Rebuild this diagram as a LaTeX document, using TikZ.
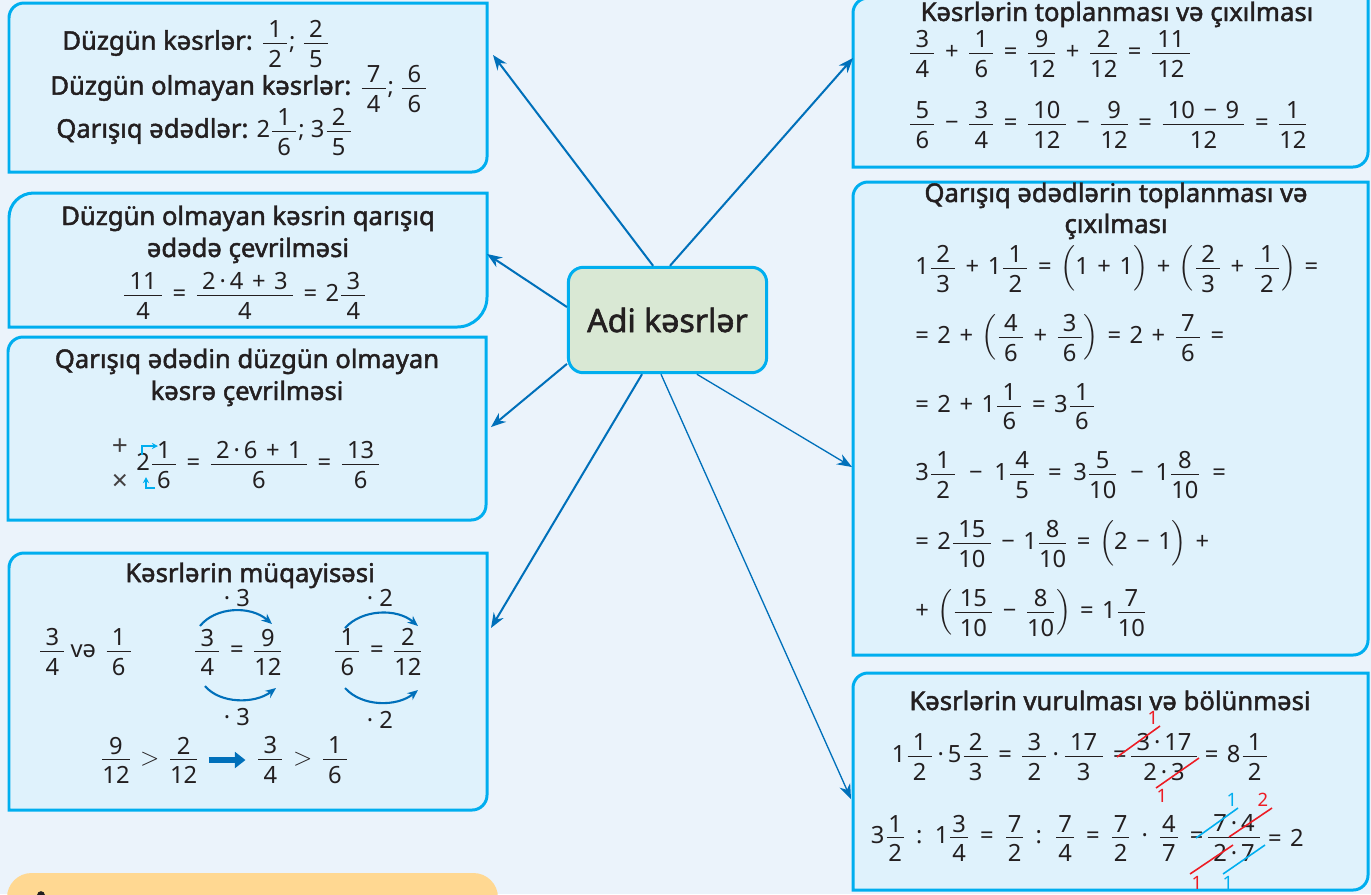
\documentclass[tikz,border=0pt]{standalone}
\usepackage{amsmath}
\usepackage{fontspec}
\setmainfont{Noto Sans}[BoldFont={Noto Sans},BoldFeatures={FakeBold=1.8}]
\usetikzlibrary{arrows.meta,fit}

\definecolor{pagebg}{RGB}{235,243,251}
\definecolor{cardbg}{RGB}{223,242,252}
\definecolor{cardline}{RGB}{0,174,239}
\definecolor{linkblue}{RGB}{0,112,186}
\definecolor{hubbg}{RGB}{217,232,212}
\definecolor{notebg}{RGB}{255,216,146}
\definecolor{ink}{RGB}{35,31,32}
\definecolor{cutred}{RGB}{237,28,36}

\newcommand\fr[2]{$\dfrac{\hspace{0.22em}\raisebox{-3pt}{#1}\hspace{0.22em}}{\text{#2}}$}
\newcommand\frn[2]{$\dfrac{\hspace{0.08em}\raisebox{-3pt}{#1}\hspace{0.08em}}{\text{#2}}$}
\newcommand\pr[1]{$\left(\vphantom{\text{\fr{1}{2}}}\text{#1}\right)$}
\newcommand\lbl[1]{{\fontsize{14.6}{17}\selectfont\bfseries #1}}
% card outline: rounded top left (#2) and bottom right (#3)
\newcommand\card[3]{\filldraw[cardframe] (#1.south west) -- ([yshift=-#2]#1.north west)
  .. controls ([yshift=-0.45*#2]#1.north west) and ([xshift=0.45*#2]#1.north west) .. ([xshift=#2]#1.north west)
  -- (#1.north east) -- ([yshift=#3]#1.south east)
  .. controls ([yshift=0.45*#3]#1.south east) and ([xshift=-0.45*#3]#1.south east) .. ([xshift=-#3]#1.south east) -- cycle;}

\tikzset{
  cardframe/.style={fill=cardbg,draw=cardline,line width=1.7pt},
  area/.style={inner sep=0pt,outer sep=0pt},
  txt/.style={inner sep=0pt,text=ink,font=\fontsize{13.5}{16}\selectfont},
  eqn/.style={inner sep=0pt,text=ink,font={\fontsize{13.5}{16}\selectfont\spaceskip=0.36em\relax}},
  wideeqn/.style={eqn,font={\fontsize{13.5}{16}\selectfont\spaceskip=0.5em\relax}},
  ttl/.style={inner sep=0pt,text=ink,anchor=base,font=\fontsize{14.6}{17}\selectfont\bfseries},
  cut/.style={inner sep=0pt,font=\fontsize{10.5}{12}\selectfont},
  link/.style={draw=linkblue,line width=1.15pt,-{Stealth[length=8.5pt,width=6.5pt]}},
  thinlink/.style={link,line width=0.75pt},
  swing/.style={draw=linkblue,line width=1.2pt,-{Stealth[length=6pt,width=5pt]}},
}

\begin{document}
\begin{tikzpicture}[x=0.02cm,y=-0.02cm]
\useasboundingbox (0,0) rectangle (1371,894);
\fill[pagebg] (0,0) rectangle (1371,894);

\node[area,fit={(9,3)(487,172)}] (kinds) {};
\node[area,fit={(9,193)(487,327)}] (tomixed) {};
\node[area,fit={(8,337)(486,520)}] (toimproper) {};
\node[area,fit={(9,553)(487,810)}] (compare) {};
\node[area,fit={(853,-2)(1368,167)}] (addsub) {};
\node[area,fit={(853,182)(1368,655)}] (mixaddsub) {};
\node[area,fit={(853,673)(1368,890)}] (muldiv) {};
\card{kinds}{8.5pt}{8.5pt}
\card{tomixed}{14pt}{17pt}
\card{toimproper}{8.5pt}{8.5pt}
\card{compare}{8.5pt}{8.5pt}
\card{addsub}{8.5pt}{8.5pt}
\card{mixaddsub}{8.5pt}{8.5pt}
\card{muldiv}{8.5pt}{8.5pt}

\fill[notebg,rounded corners=14pt] (7,873) rectangle (498,940);
\fill[ink] (41,895) circle (2.2pt);

\node[draw=cardline,fill=hubbg,line width=1.7pt,rounded corners=8.5pt,minimum width=112.8pt,minimum height=60pt,
  text=ink,font=\fontsize{18.3}{21}\selectfont\bfseries] (hub) at (667.5,320) {Adi kəsrlər};

\coordinate (tA) at (493,55);
\coordinate (tB) at (853,58);
\coordinate (tC) at (487,254);
\coordinate (tD) at (491,427);
\coordinate (tE) at (491,628);
\coordinate (tF) at (852,467);
\coordinate (tG) at (851,799);
\draw[link] ([xshift=-8.2pt]hub.north) -- (tA);
\draw[link] ([xshift=1.4pt]hub.north) -- (tB);
\draw[link] ([yshift=7.4pt]hub.west) -- (tC);
\draw[link] ([yshift=-25pt]hub.west) -- (tD);
\draw[link] ([xshift=-14.5pt]hub.south) -- (tE);
\draw[thinlink] ([xshift=16.7pt]hub.south) -- (tF);
\draw[thinlink] ([xshift=-3.7pt]hub.south) -- (tG);

% kinds of fractions
\node[txt,anchor=west] (k1) at (62,44) {\lbl{Düzgün kəsrlər:} \fr{1}{2}; \fr{2}{5}};
\node[txt,anchor=west] (k2) at (50,89) {\lbl{Düzgün olmayan kəsrlər:} \fr{7}{4}; \fr{6}{6}};
\node[txt,anchor=west] (k3) at (56,132) {\lbl{Qarışıq ədədlər:} 2\fr{1}{6}; 3\fr{2}{5}};

% improper -> mixed
\node[ttl] (m1) at (248,225) {Düzgün olmayan kəsrin qarışıq};
\node[ttl] (m2) at (248,257) {ədədə çevrilməsi};
\node[eqn,anchor=west] (m3) at (122,296) {\fr{11}{4} = \fr{2\,·\,4 + 3}{4} = 2\fr{3}{4}};

% mixed -> improper
\node[ttl] (i1) at (247,368) {Qarışıq ədədin düzgün olmayan};
\node[ttl] (i2) at (247,400) {kəsrə çevrilməsi};
\node[txt,text=ink!85,font=\fontsize{16}{18}\selectfont] (iplus) at (120,447) {+};
\node[txt,text=ink!85,font=\fontsize{16}{18}\selectfont] (itimes) at (120,482) {×};
\node[eqn,anchor=west] (i3) at (136,465) {2\fr{1}{6} = \fr{2\,·\,6 + 1}{6} = \fr{13}{6}};
\draw[cardline,line width=1pt,-{Stealth[length=3.5pt,width=3.5pt]}] (142,455) -- (142,446) -- (158,446);
\draw[cardline,line width=1pt,-{Stealth[length=3.5pt,width=3.5pt]}] (155,488) -- (146,488) -- (146,477);

% comparison
\node[ttl] (c0) at (250,582) {Kəsrlərin müqayisəsi};
\node[eqn,anchor=west] (c1) at (38,652) {\fr{3}{4}\,və \fr{1}{6}};
\node[eqn,anchor=west] (c2) at (193,652) {\fr{3}{4} = \fr{9}{12}};
\node[eqn,anchor=west] (c3) at (333,652) {\fr{1}{6} = \fr{2}{12}};
\draw[swing] (200,626) .. controls (215,607) and (250,605) .. (272,624);
\draw[swing] (205,686) .. controls (220,704) and (255,704) .. (276,688);
\draw[swing] (345,628) .. controls (362,609) and (397,608) .. (418,626);
\draw[swing] (345,688) .. controls (362,707) and (397,707) .. (418,690);
\node[txt] (c4) at (237,598) {· 3};
\node[txt] (c5) at (237,717) {· 3};
\node[txt] (c6) at (380,598) {· 2};
\node[txt] (c7) at (380,720) {· 2};
\node[eqn,anchor=west] (c8) at (100,760) {\fr{9}{12} $>$ \fr{2}{12}};
\node[eqn,anchor=west] (c9) at (256,760) {\fr{3}{4} $>$ \fr{1}{6}};
\draw[linkblue,line width=3pt,-{Triangle[length=6pt,width=9pt]}] ([xshift=5pt]c8.east) -- ([xshift=-6pt]c9.west);

% addition and subtraction
\node[ttl] (a0) at (1117,21) {Kəsrlərin toplanması və çıxılması};
\node[eqn,anchor=west] (a1) at (908,54) {\fr{3}{4} + \fr{1}{6} = \fr{9}{12} + \fr{2}{12} = \fr{11}{12}};
\node[eqn,anchor=west] (a2) at (908,125) {\fr{5}{6} − \fr{3}{4} = \fr{10}{12} − \fr{9}{12} = \fr{10 − 9}{12} = \fr{1}{12}};

% mixed numbers
\node[ttl] (x0) at (1116,202) {Qarışıq ədədlərin toplanması və};
\node[ttl] (x1) at (1116,233) {çıxılması};
\node[eqn,anchor=west] (x2) at (915,269) {1\fr{2}{3} + 1\fr{1}{2} = \pr{1 + 1} + \pr{\fr{2}{3} + \fr{1}{2}} =};
\node[eqn,anchor=west] (x3) at (915,338) {= 2 + \pr{\fr{4}{6} + \fr{3}{6}} = 2 + \fr{7}{6} =};
\node[eqn,anchor=west] (x4) at (915,407) {= 2 + 1\fr{1}{6} = 3\fr{1}{6}};
\node[wideeqn,anchor=west] (x5) at (915,475) {3\fr{1}{2} − 1\fr{4}{5} = 3\fr{5}{10} − 1\fr{8}{10} =};
\node[eqn,anchor=west] (x6) at (915,544) {= 2\fr{15}{10} − 1\fr{8}{10} = \pr{2 − 1} +};
\node[eqn,anchor=west] (x7) at (915,613) {+ \pr{\fr{15}{10} − \fr{8}{10}} = 1\fr{7}{10}};

% multiplication and division
\node[ttl] (v0) at (1110,710) {Kəsrlərin vurulması və bölünməsi};
\node[eqn] (f1) at (1164,757) {\fr{3\,·\,17}{2\,·\,3}};
\node[eqn,anchor=east] (v1) at ([xshift=-1pt]f1.west) {1\fr{1}{2}\,·\,5\fr{2}{3} = \fr{3}{2}\,·\,\fr{17}{3} =};
\node[eqn,anchor=west] (v2) at ([xshift=3pt]f1.east) {= 8\fr{1}{2}};
\node[eqn] (f2) at (1234,838) {\fr{7\,·\,4}{2\,·\,7}};
\node[eqn,font={\fontsize{13.5}{16}\selectfont\spaceskip=0.43em\relax},anchor=east] (v3) at ([xshift=-1pt]f2.west)
  {3\frn{1}{2} : 1\frn{3}{4} = \frn{7}{2} : \frn{7}{4} = \frn{7}{2} · \frn{4}{7} =};
\node[eqn,anchor=west] (v4) at ([xshift=3pt]f2.east) {= 2};
\draw[cutred,line width=0.9pt] ([shift={(-47,0)}]f1.center) -- ([shift={(-4,-31)}]f1.center);
\draw[cutred,line width=0.9pt] ([shift={(-8,31)}]f1.center) -- ([shift={(35,1)}]f1.center);
\node[cut,text=cutred] (n1) at ([shift={(-11,-39)}]f1.center) {1};
\node[cut,text=cutred] (n2) at ([shift={(-2,39)}]f1.center) {1};
\draw[cardline,line width=0.9pt] ([shift={(-38,0)}]f2.center) -- ([shift={(4,-30)}]f2.center);
\draw[cutred,line width=0.9pt] ([shift={(-5,-1)}]f2.center) -- ([shift={(38,-30)}]f2.center);
\draw[cutred,line width=0.9pt] ([shift={(-44,36)}]f2.center) -- ([shift={(-1,7)}]f2.center);
\draw[cardline,line width=0.9pt] ([shift={(-11,36)}]f2.center) -- ([shift={(31,7)}]f2.center);
\node[cut,text=cardline] (n3) at ([shift={(-2,-38)}]f2.center) {1};
\node[cut,text=cutred] (n4) at ([shift={(29,-38)}]f2.center) {2};
\node[cut,text=cutred] (n5) at ([shift={(-37,45)}]f2.center) {1};
\node[cut,text=cardline] (n6) at ([shift={(-6,45)}]f2.center) {1};
\end{tikzpicture}
\end{document}
